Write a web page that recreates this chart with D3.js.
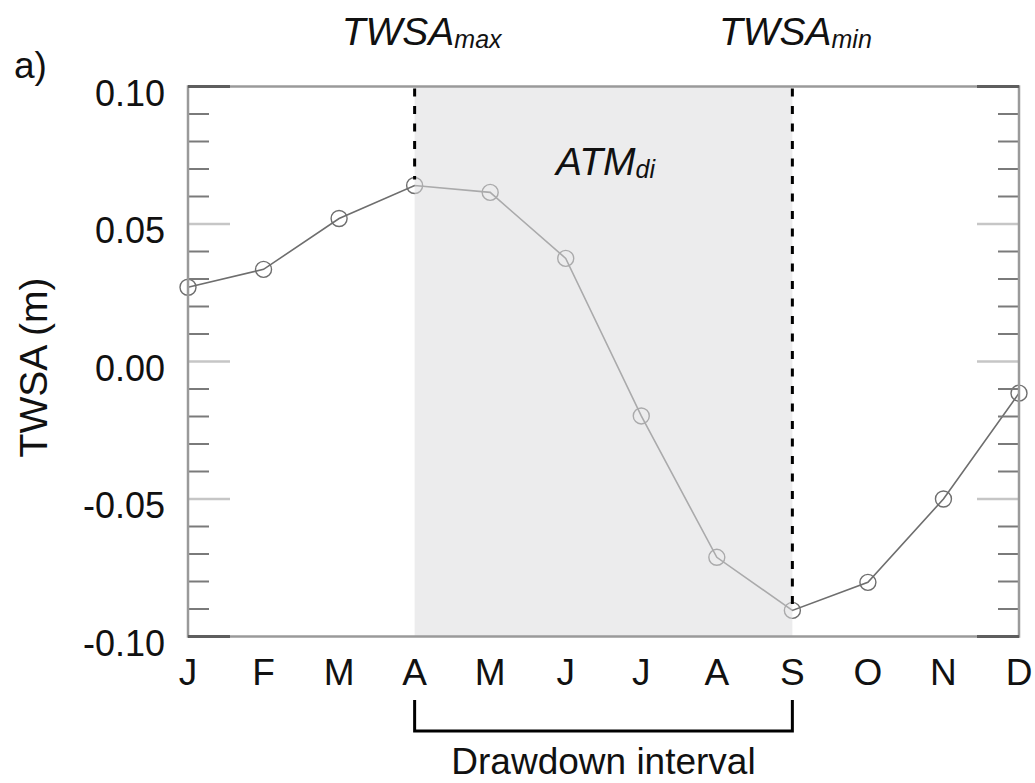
<!DOCTYPE html>
<html>
<head>
<meta charset="utf-8">
<script src="https://cdn.jsdelivr.net/npm/d3@7"></script>
<style>
  html, body { margin: 0; padding: 0; background: #fff; }
  svg { display: block; }
  text { font-family: "Liberation Sans", Arial, Helvetica, sans-serif; fill: #111; }
</style>
</head>
<body>
<svg id="chart" width="1035" height="783"></svg>
<script>
// ---- data ----
const months = ["J", "F", "M", "A", "M", "J", "J", "A", "S", "O", "N", "D"];
const twsa = [0.027, 0.0335, 0.052, 0.064, 0.0615, 0.0375, -0.0198, -0.0712, -0.0905, -0.0803, -0.050, -0.0115];
const yMajorTicks = [-0.10, -0.05, 0.00, 0.05, 0.10];
const yTickLabels = ["-0.10", "-0.05", "0.00", "0.05", "0.10"];
const yMinorTicks = [-0.09, -0.08, -0.07, -0.06, -0.04, -0.03, -0.02, -0.01, 0.01, 0.02, 0.03, 0.04, 0.06, 0.07, 0.08, 0.09];
const maxIndex = 3;   // April (TWSA max)
const minIndex = 8;   // September (TWSA min)

// ---- layout ----
const pL = 188, pR = 1019, pT = 86.5, pB = 636.5;
const svg = d3.select("#chart");

const x = d3.scaleLinear().domain([0, months.length - 1]).range([pL, pR]);
const y = d3.scaleLinear().domain([-0.10, 0.10]).range([pB, pT]);

// ---- data line + markers ----
const line = d3.line().x((d, i) => x(i)).y(d => y(d));
svg.append("path")
  .datum(twsa)
  .attr("d", line)
  .attr("fill", "none")
  .attr("stroke", "#6e6e6e")
  .attr("stroke-width", 1.6);

svg.selectAll("circle.pt")
  .data(twsa)
  .enter().append("circle")
  .attr("class", "pt")
  .attr("cx", (d, i) => x(i))
  .attr("cy", d => y(d))
  .attr("r", 8)
  .attr("fill", "none")
  .attr("stroke", "#6e6e6e")
  .attr("stroke-width", 1.4);

// ---- drawdown shading (over the line, semi-transparent) ----
svg.append("rect")
  .attr("x", x(maxIndex))
  .attr("y", pT)
  .attr("width", x(minIndex) - x(maxIndex))
  .attr("height", pB - pT)
  .attr("fill", "#dcdcdf")
  .attr("fill-opacity", 0.55);

// ---- ticks (both sides, inward) ----
const tickG = svg.append("g");
yMinorTicks.forEach(v => {
  tickG.append("line").attr("x1", pL).attr("x2", pL + 21).attr("y1", y(v)).attr("y2", y(v))
    .attr("stroke", "#7a7a7a").attr("stroke-width", 2);
  tickG.append("line").attr("x1", pR - 21).attr("x2", pR).attr("y1", y(v)).attr("y2", y(v))
    .attr("stroke", "#7a7a7a").attr("stroke-width", 2);
});
yMajorTicks.forEach((v, i) => {
  const isEnd = (i === 0 || i === yMajorTicks.length - 1);
  if (isEnd) return;
  tickG.append("line").attr("x1", pL).attr("x2", pL + 42).attr("y1", y(v)).attr("y2", y(v))
    .attr("stroke", "#c6c6c6").attr("stroke-width", 2.5);
  tickG.append("line").attr("x1", pR - 42).attr("x2", pR).attr("y1", y(v)).attr("y2", y(v))
    .attr("stroke", "#c6c6c6").attr("stroke-width", 2.5);
});

// ---- frame ----
svg.append("rect")
  .attr("x", pL).attr("y", pT)
  .attr("width", pR - pL).attr("height", pB - pT)
  .attr("fill", "none")
  .attr("stroke", "#9a9a9a")
  .attr("stroke-width", 2.5);
// end major ticks, darker over the frame
[yMajorTicks[0], yMajorTicks[yMajorTicks.length - 1]].forEach(v => {
  svg.append("line").attr("x1", pL).attr("x2", pL + 42).attr("y1", y(v)).attr("y2", y(v))
    .attr("stroke", "#5e5e5e").attr("stroke-width", 3);
  svg.append("line").attr("x1", pR - 42).attr("x2", pR).attr("y1", y(v)).attr("y2", y(v))
    .attr("stroke", "#5e5e5e").attr("stroke-width", 3);
});

// ---- dashed markers for max/min ----
[maxIndex, minIndex].forEach(i => {
  svg.append("line")
    .attr("x1", x(i)).attr("x2", x(i))
    .attr("y1", pT + 2).attr("y2", y(twsa[i]) - 6)
    .attr("stroke", "#000")
    .attr("stroke-width", 3)
    .attr("stroke-dasharray", "8,9.5");
});

// ---- y tick labels ----
svg.selectAll("text.ylab")
  .data(yMajorTicks)
  .enter().append("text")
  .attr("class", "ylab")
  .attr("x", 165)
  .attr("y", d => y(d) + 19)
  .attr("text-anchor", "end")
  .style("font-size", "36px")
  .text((d, i) => yTickLabels[i]);

// ---- month labels ----
svg.selectAll("text.xlab")
  .data(months)
  .enter().append("text")
  .attr("class", "xlab")
  .attr("x", (d, i) => x(i))
  .attr("y", 685)
  .attr("text-anchor", "middle")
  .style("font-size", "37px")
  .text(d => d);

// ---- y axis title ----
svg.append("text")
  .attr("transform", `translate(47, ${(pT + pB) / 2 + 6}) rotate(-90)`)
  .attr("text-anchor", "middle")
  .style("font-size", "39px")
  .text("TWSA (m)");

// ---- panel label ----
svg.append("text")
  .attr("x", 14).attr("y", 78)
  .style("font-size", "37px")
  .text("a)");

// ---- italic annotations with subscripts ----
function subLabel(cx, by, main, sub) {
  const t = svg.append("text")
    .attr("x", cx).attr("y", by)
    .attr("text-anchor", "middle")
    .style("font-style", "italic")
    .style("font-size", "39px");
  t.append("tspan").text(main);
  t.append("tspan").attr("dy", 3).style("font-size", "25px").text(sub);
}
subLabel(x(maxIndex) + 7, 45, "TWSA", "max");
subLabel(x(minIndex) + 3, 45, "TWSA", "min");
subLabel((x(maxIndex) + x(minIndex)) / 2 + 2, 175, "ATM", "di");

// ---- drawdown bracket ----
const bracket = d3.path();
bracket.moveTo(x(maxIndex), 700);
bracket.lineTo(x(maxIndex), 731);
bracket.lineTo(x(minIndex), 731);
bracket.lineTo(x(minIndex), 700);
svg.append("path")
  .attr("d", bracket.toString())
  .attr("fill", "none")
  .attr("stroke", "#000")
  .attr("stroke-width", 3);

svg.append("text")
  .attr("x", (x(maxIndex) + x(minIndex)) / 2)
  .attr("y", 774)
  .attr("text-anchor", "middle")
  .style("font-size", "37px")
  .text("Drawdown interval");
</script>
</body>
</html>
